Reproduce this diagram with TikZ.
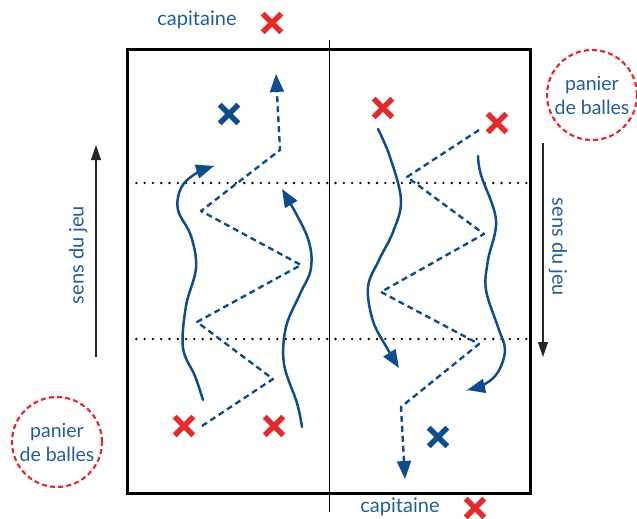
\documentclass[tikz,border=0pt]{standalone}
\usepackage{fontspec}
\setmainfont{Lato}
\usetikzlibrary{arrows.meta}
\definecolor{dblue}{HTML}{0E4C8C}
\definecolor{tblue}{HTML}{215D9C}
\definecolor{xred}{HTML}{E32B2B}
\tikzset{
  xmark/.style={minimum size=25pt, inner sep=0pt, outer sep=0pt,
    path picture={\draw[#1, line width=5.6pt]
      ([shift={(3.2pt,-3.2pt)}]path picture bounding box.north west) -- ([shift={(-3.2pt,3.2pt)}]path picture bounding box.south east)
      ([shift={(-3.2pt,-3.2pt)}]path picture bounding box.north east) -- ([shift={(3.2pt,3.2pt)}]path picture bounding box.south west);}},
  redx/.style={xmark=xred},
  bluex/.style={xmark=dblue},
  lbl/.style={text=tblue, font=\fontsize{20}{24}\selectfont, inner sep=0pt},
  basket/.style={circle, draw=xred, line width=2.2pt, dash pattern=on 5pt off 3.2pt, minimum size=90pt,
    align=center, text=tblue, font=\fontsize{19.5}{24}\selectfont, inner sep=0pt},
  pass/.style={dblue, line width=2.4pt, dash pattern=on 6pt off 4pt, line join=round},
  run/.style={dblue, line width=2.5pt, line cap=round},
  tip/.style={-{Triangle[length=18pt,width=14pt]}},
  dots/.style={line width=2.6pt, line cap=round, dash pattern=on 0pt off 8.3pt},
  dir/.style={line width=1.1pt, black!85, -{Triangle[length=15pt,width=10pt]}}
}
\begin{document}
\begin{tikzpicture}[x=1pt,y=-1pt]
\useasboundingbox (0,0) rectangle (637,519);
% field
\draw[dots] (128,183) -- (530,183);
\draw[dots] (128,339) -- (530,339);
\draw[line width=1pt] (329,40) -- (329,512);
\draw[line width=3pt] (127,50) rectangle (530,493);
% direction arrows
\draw[dir] (96,357) -- (96,145);
\draw[dir] (543,143) -- (543,357);
\node[lbl, rotate=90] (sj1) at (78,255) {sens du jeu};
\node[lbl, rotate=-90] (sj2) at (558,247) {sens du jeu};
% captains
\node[lbl] (cap1) at (197,20) {capitaine};
\node[redx] (cx1) at (272,23) {};
\node[lbl] (cap2) at (400,507) {capitaine};
\node[redx] (cx2) at (475,508) {};
% baskets
\node[basket] (bk1) at (592,95) {panier\\de balles};
\node[basket] (bk2) at (57,442) {panier\\de balles};
% players
\node[bluex] (b1) at (229,114) {};
\node[redx] (r1) at (184,426) {};
\node[redx] (r2) at (274,426) {};
\node[redx] (r3) at (383,108) {};
\node[redx] (r4) at (497,123) {};
\node[bluex] (b2) at (438,437) {};
% left pass chain
\coordinate (l0) at (202,426);
\coordinate (l1) at (273,379);
\coordinate (l2) at (197,322);
\coordinate (l3) at (301,265);
\coordinate (l4) at (201,211);
\coordinate (l5) at (280,150);
\coordinate (l6) at (276,74);
\draw[pass, tip] (l0) -- (l1) -- (l2) -- (l3) -- (l4) -- (l5) -- (l6);
% right pass chain
\coordinate (p0) at (479,130);
\coordinate (p1) at (407,177);
\coordinate (p2) at (484,234);
\coordinate (p3) at (381,292);
\coordinate (p4) at (479,344);
\coordinate (p5) at (401,407);
\coordinate (p6) at (405,479);
\draw[pass, tip] (p0) -- (p1) -- (p2) -- (p3) -- (p4) -- (p5) -- (p6);
% runs
\draw[run, tip] plot[smooth, tension=0.6] coordinates {(203,400) (195,376) (183,348) (186,306) (196,268) (191,236) (178,210) (181,188) (195,174) (214,166)};
\draw[run, tip] plot[smooth, tension=0.6] coordinates {(302,427) (297,403) (284,364) (286,327) (300,294) (311,268) (307,236) (282,189)};
\draw[run, tip] plot[smooth, tension=0.6] coordinates {(378,129) (390,157) (401,200) (393,232) (379,260) (368,287) (373,321) (387,348) (399,368)};
\draw[run, tip] plot[smooth, tension=0.6] coordinates {(478,156) (481,175) (496,220) (488,260) (486,290) (498,327) (505,350) (498,372) (485,384) (467,390)};
\end{tikzpicture}
\end{document}
